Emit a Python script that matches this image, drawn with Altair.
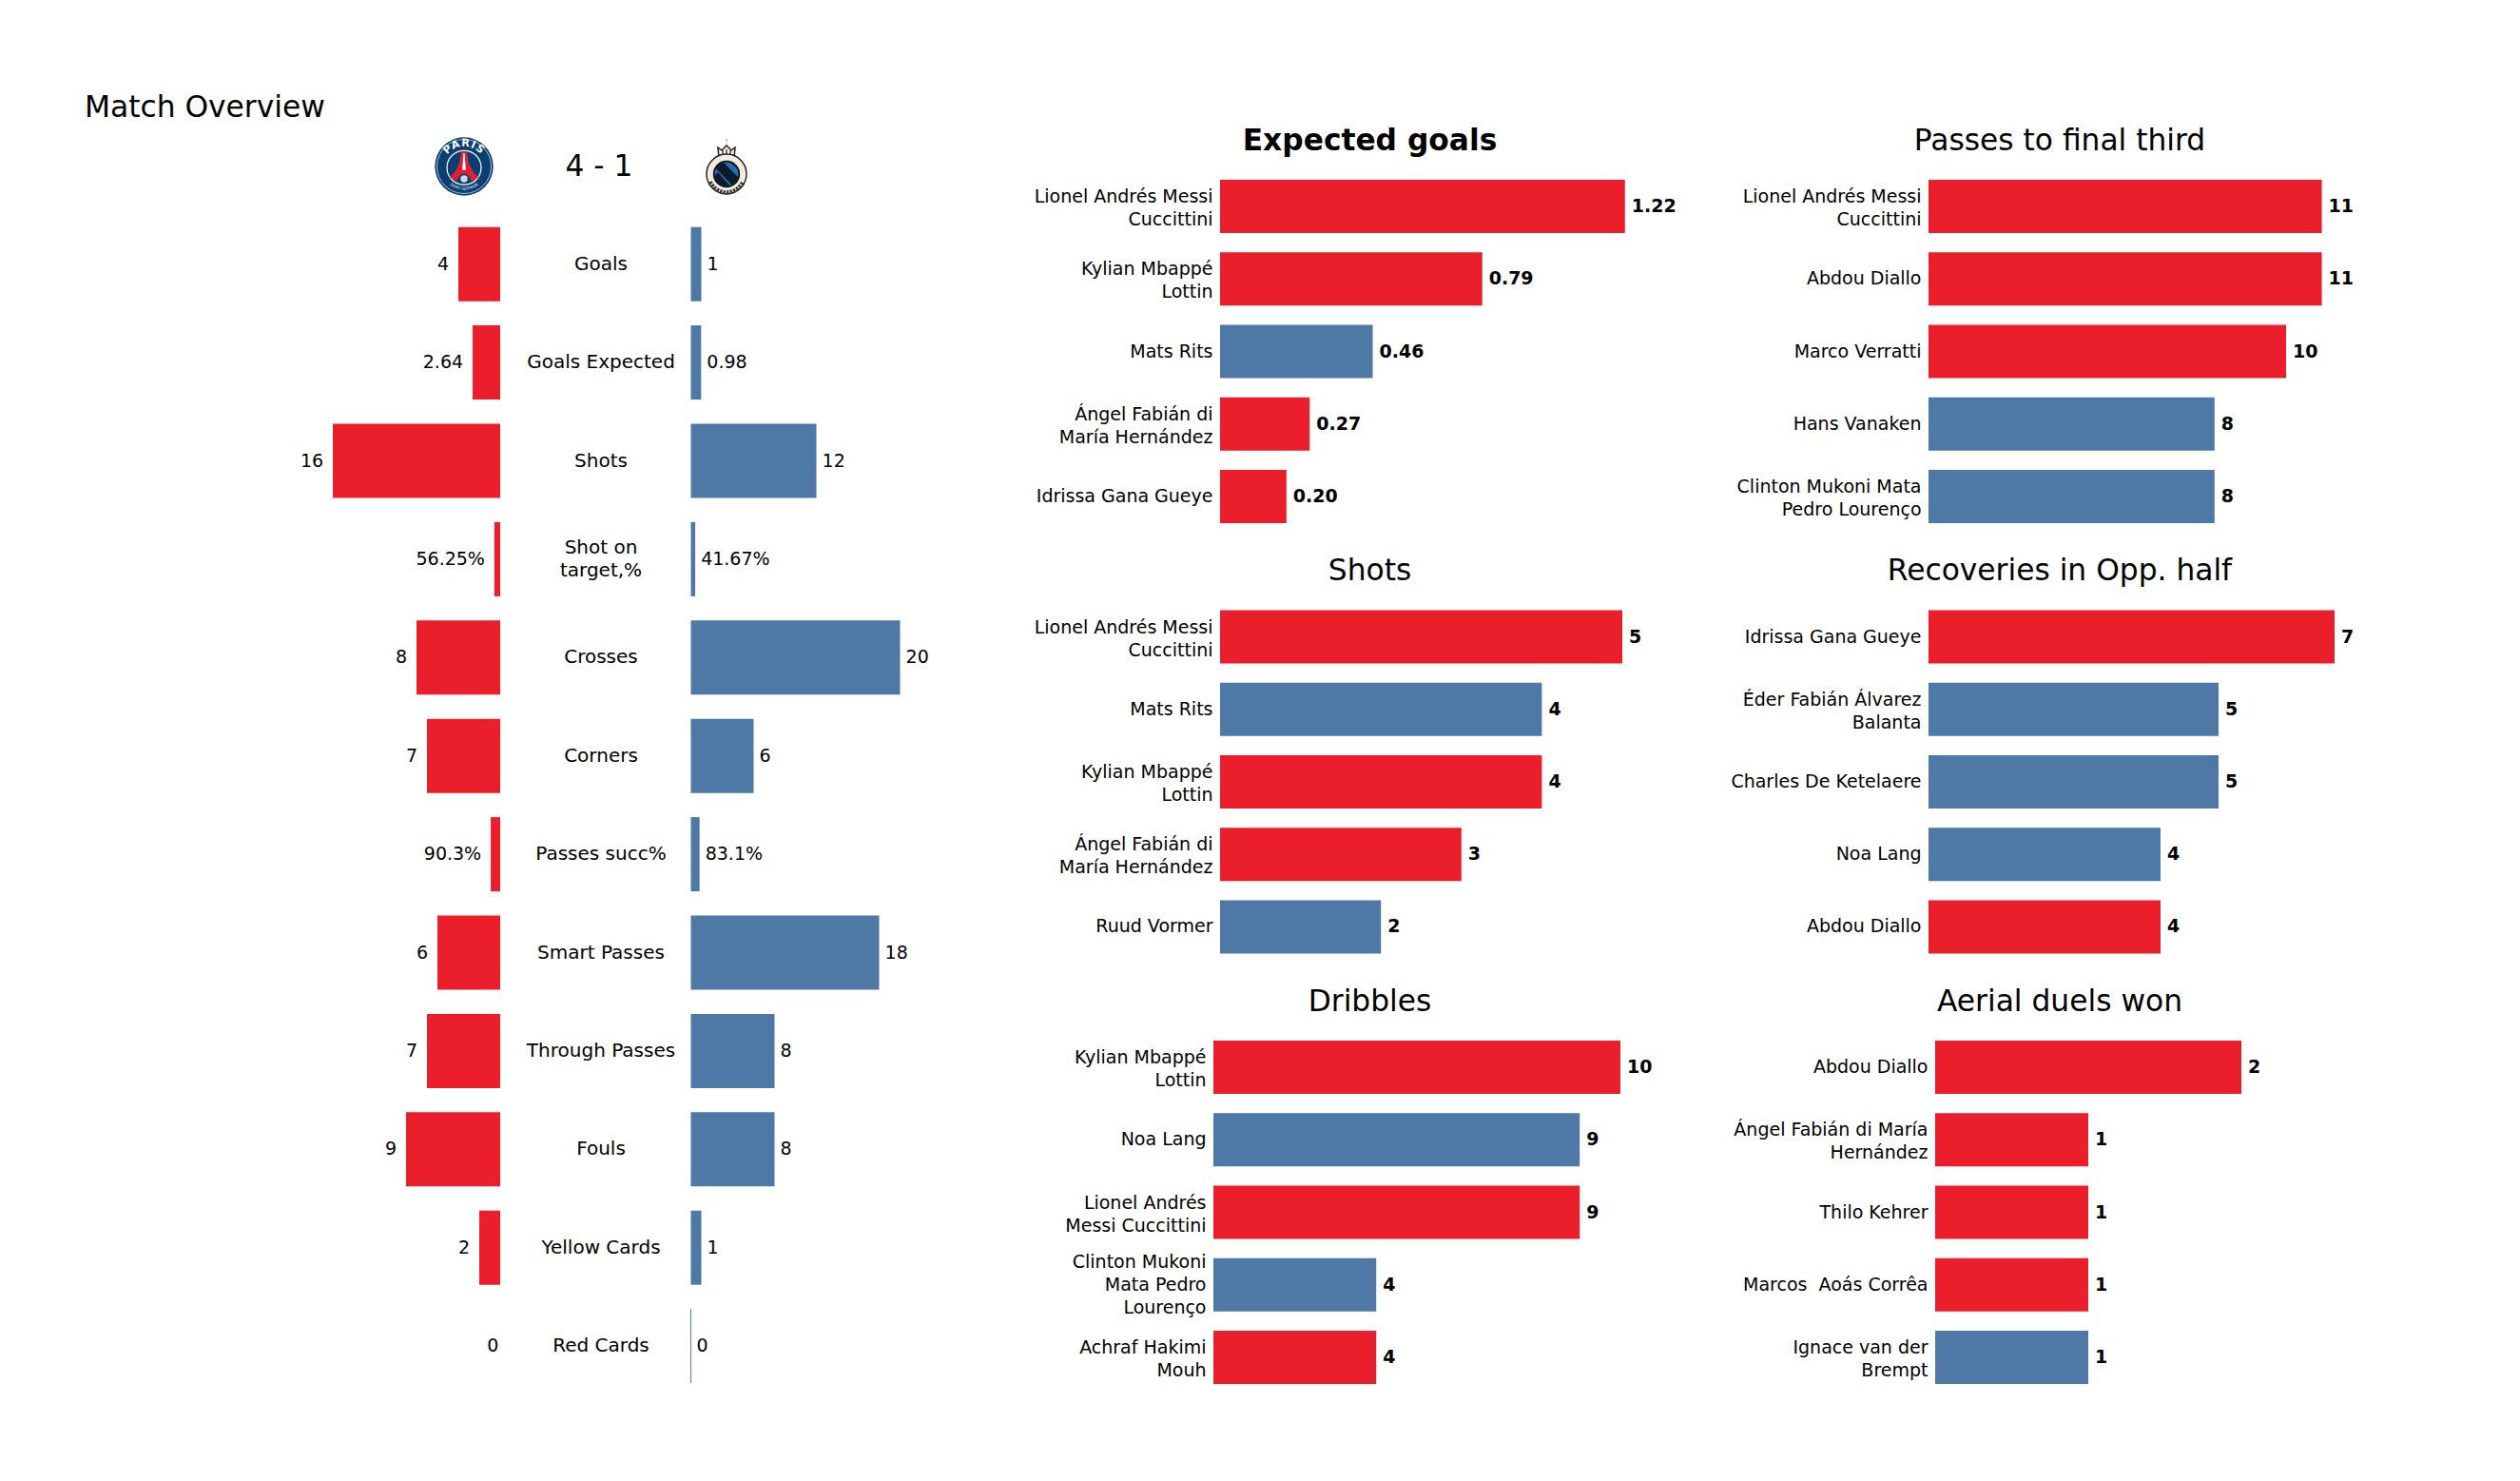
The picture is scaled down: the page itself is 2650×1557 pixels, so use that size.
import base64
import altair as alt
import pandas as pd

RED = "#EB1E2C"
BLUE = "#4E78A6"
FONT = "DejaVu Sans"

# ---- overview data
categories = ["Goals", "Goals Expected", "Shots", "Shot on|target,%", "Crosses", "Corners",
              "Passes succ%", "Smart Passes", "Through Passes", "Fouls", "Yellow Cards", "Red Cards"]
home_values = [4, 2.64, 16, 0.5625, 8, 7, 0.903, 6, 7, 9, 2, 0]
away_values = [1, 0.98, 12, 0.4167, 20, 6, 0.831, 18, 8, 8, 1, 0]
home_labels = ["4", "2.64", "16", "56.25%", "8", "7", "90.3%", "6", "7", "9", "2", "0"]
away_labels = ["1", "0.98", "12", "41.67%", "20", "6", "83.1%", "18", "8", "8", "1", "0"]

# ---- player panels
xg_names = ["Lionel Andrés Messi|Cuccittini", "Kylian Mbappé|Lottin", "Mats Rits",
            "Ángel Fabián di|María Hernández", "Idrissa Gana Gueye"]
xg_values = [1.22, 0.79, 0.46, 0.27, 0.20]
xg_teams = ["PSG", "PSG", "BRU", "PSG", "PSG"]

shots_names = ["Lionel Andrés Messi|Cuccittini", "Mats Rits", "Kylian Mbappé|Lottin",
               "Ángel Fabián di|María Hernández", "Ruud Vormer"]
shots_values = [5, 4, 4, 3, 2]
shots_teams = ["PSG", "BRU", "PSG", "PSG", "BRU"]

drib_names = ["Kylian Mbappé|Lottin", "Noa Lang", "Lionel Andrés|Messi Cuccittini",
              "Clinton Mukoni|Mata Pedro|Lourenço", "Achraf Hakimi|Mouh"]
drib_values = [10, 9, 9, 4, 4]
drib_teams = ["PSG", "BRU", "PSG", "BRU", "PSG"]

final_names = ["Lionel Andrés Messi|Cuccittini", "Abdou Diallo", "Marco Verratti",
               "Hans Vanaken", "Clinton Mukoni Mata|Pedro Lourenço"]
final_values = [11, 11, 10, 8, 8]
final_teams = ["PSG", "PSG", "PSG", "BRU", "BRU"]

recov_names = ["Idrissa Gana Gueye", "Éder Fabián Álvarez|Balanta", "Charles De Ketelaere",
               "Noa Lang", "Abdou Diallo"]
recov_values = [7, 5, 5, 4, 4]
recov_teams = ["PSG", "BRU", "BRU", "BRU", "PSG"]

aerial_names = ["Abdou Diallo", "Ángel Fabián di María|Hernández", "Thilo Kehrer",
                "Marcos\u00a0 Aoás Corrêa", "Ignace van der|Brempt"]
aerial_values = [2, 1, 1, 1, 1]
aerial_teams = ["PSG", "PSG", "PSG", "PSG", "BRU"]

# ---- crests (small inline drawings)
PSG_SVG = """<svg xmlns="http://www.w3.org/2000/svg" width="100" height="100" viewBox="0 0 100 100">
<circle cx="50" cy="50" r="49.5" fill="#0B3F74"/>
<circle cx="50" cy="50" r="46" fill="none" stroke="#dfe6ee" stroke-width="1.2"/>
<path id="a" d="M14 52 A36 36 0 0 1 86 52" fill="none"/>
<text font-family="DejaVu Sans" font-weight="bold" font-size="18" fill="#fff" letter-spacing="1.5"><textPath href="#a" startOffset="50%" text-anchor="middle">PARIS</textPath></text>
<circle cx="50" cy="52" r="29" fill="#0B3F74" stroke="#fff" stroke-width="2"/>
<path d="M45 24 L55 24 C56 44 63 60 75 68 L62 75 C60 67 55 62 50 62 C45 62 40 67 38 75 L25 68 C37 60 44 44 45 24 Z" fill="#E0202F"/>
<path d="M49 28 L51 28 L53 56 L47 56 Z" fill="#fff"/>
<circle cx="50" cy="71" r="6" fill="#cfd9e6"/>
<path id="b" d="M14 64 A38 38 0 0 0 86 64" fill="none"/>
<text font-family="DejaVu Sans" font-size="6.5" fill="#e8edf3"><textPath href="#b" startOffset="50%" text-anchor="middle">SAINT-GERMAIN</textPath></text>
</svg>"""

BRUGES_SVG = """<svg xmlns="http://www.w3.org/2000/svg" width="44" height="60" viewBox="0 0 44 60">
<defs><clipPath id="c"><circle cx="22" cy="38" r="12.5"/></clipPath></defs>
<circle cx="22" cy="2" r="1.4" fill="#D8CDA8"/>
<rect x="21.5" y="3" width="1" height="5" fill="#D8CDA8"/>
<path d="M13 10 L17 13 L22 8 L27 13 L31 10 L30 21 L14 21 Z" fill="#f3f1ea" stroke="#222" stroke-width="1.5"/>
<path d="M18 13 L18 20 M22 12 L22 20 M26 13 L26 20" stroke="#222" stroke-width="1.2"/>
<circle cx="22" cy="38" r="21" fill="#F1ECDD" stroke="#1a1a1a" stroke-width="1.4"/>
<path d="M5 46 A18.5 18.5 0 0 0 39 46" fill="none" stroke="#333" stroke-width="4" stroke-dasharray="2.4 1.2"/>
<circle cx="22" cy="38" r="14.2" fill="#111"/>
<g clip-path="url(#c)"><rect x="8" y="24" width="28" height="28" fill="#1E6FB8"/>
<path d="M8 29 L17 24 L36 43 L30 52 Z" fill="#0c1a2b"/>
<path d="M8 42 L13 36 L27 52 L17 52 Z" fill="#0c1a2b"/>
<path d="M23 24 L36 24 L36 34 Z" fill="#0c1a2b"/></g>
</svg>"""


def data_uri(svg):
    return "data:image/svg+xml;base64," + base64.b64encode(svg.encode("utf-8")).decode("ascii")


# ---- layout constants (pixels)
K_OVER = 11.0          # pixels per unit in the overview
OVER_W = 1068
ZERO_PX = 518          # red baseline inside the overview plot
GAP = 200.5 / K_OVER   # between red baseline and blue baseline
MID = 106 / K_OVER     # centre of the category labels
STEP_OVER = 103.4
OVER_H = STEP_OVER * 12
HEAD_H = 47
HEAD_Y = -4
STEP = 76.2
PANEL_H = STEP * 5
COL1_W, COL2_W = 537, 572
COL1_EXT, COL2_EXT = 200, 215
VALUE_SIZE, NAME_SIZE, TITLE_SIZE = 19, 19, 31.3

x_over = alt.Scale(domain=[-ZERO_PX / K_OVER, (OVER_W - ZERO_PX) / K_OVER], nice=False, zero=False)
band_over = alt.Scale(paddingInner=25.4 / STEP_OVER, paddingOuter=12.7 / STEP_OVER)

over_df = pd.DataFrame({"category": categories, "home": home_values, "away": away_values,
                        "home_label": home_labels, "away_label": away_labels})

over_base = alt.Chart(over_df).transform_calculate(
    zero="0",
    home_end="-datum.home",
    away_start=f"{GAP}",
    away_end=f"{GAP} + datum.away",
    home_text="-datum.home - (datum.home > 0 ? 0.9 : 0.15)",
    away_text=f"{GAP} + datum.away + 0.55",
    mid=f"{MID}",
)
y_over = alt.Y("category:N", sort=None, scale=band_over, axis=None)

red_bars = over_base.mark_bar(color=RED).encode(
    x=alt.X("home_end:Q", scale=x_over, axis=None), x2="zero:Q", y=y_over)
blue_bars = over_base.mark_bar(color=BLUE, stroke=BLUE).encode(
    x=alt.X("away_start:Q", scale=x_over, axis=None), x2="away_end:Q", y=y_over,
    strokeWidth=alt.condition("datum.away == 0", alt.value(1), alt.value(0)))
home_text = over_base.mark_text(align="right", baseline="middle", font=FONT, fontSize=VALUE_SIZE, color="black").encode(
    x=alt.X("home_text:Q", scale=x_over, axis=None), y=y_over, text="home_label:N")
away_text = over_base.mark_text(align="left", baseline="middle", font=FONT, fontSize=VALUE_SIZE, color="black").encode(
    x=alt.X("away_text:Q", scale=x_over, axis=None), y=y_over, text="away_label:N")
cat_single = over_base.transform_filter("indexof(datum.category, '|') < 0").mark_text(
    align="center", baseline="middle", font=FONT, fontSize=20, color="black").encode(
    x=alt.X("mid:Q", scale=x_over, axis=None), y=y_over, text="category:N")
cat_double = over_base.transform_filter("indexof(datum.category, '|') >= 0").mark_text(
    align="center", baseline="middle", font=FONT, fontSize=20, color="black",
    lineBreak="|", lineHeight=24, dy=-12).encode(
    x=alt.X("mid:Q", scale=x_over, axis=None), y=y_over, text="category:N")

overview = alt.layer(red_bars, blue_bars, home_text, away_text, cat_single, cat_double).properties(
    width=OVER_W, height=OVER_H)

# header: crests and score
crest_df = pd.DataFrame({"x": [(488 - 526) / K_OVER, (764 - 526) / K_OVER],
                         "url": [data_uri(PSG_SVG), data_uri(BRUGES_SVG)]})
score_df = pd.DataFrame({"x": [(630 - 526) / K_OVER], "score": ["4 - 1"]})
psg_crest = alt.Chart(crest_df.iloc[[0]]).mark_image(width=62, height=62).encode(
    x=alt.X("x:Q", scale=x_over, axis=None), y=alt.value(HEAD_Y), url="url:N")
bru_crest = alt.Chart(crest_df.iloc[[1]]).mark_image(width=44, height=60).encode(
    x=alt.X("x:Q", scale=x_over, axis=None), y=alt.value(HEAD_Y), url="url:N")
score = alt.Chart(score_df).mark_text(font=FONT, fontSize=TITLE_SIZE, color="black", baseline="middle", dy=1).encode(
    x=alt.X("x:Q", scale=x_over, axis=None), y=alt.value(HEAD_Y), text="score:N")
header = alt.layer(psg_crest, bru_crest, score).properties(width=OVER_W, height=HEAD_H)

left = alt.vconcat(header, overview, spacing=0)

LABEL_OFFSET = {
    "condition": [
        {"test": "length(split(datum.value, '|')) == 3", "value": -24},
        {"test": "length(split(datum.value, '|')) == 2", "value": -10},
    ],
    "value": 0,
}


def panel(title, names, values, teams, k, zero_px, pad, width, extent, fmt="{:d}", title_dx=0, bold=False):
    df = pd.DataFrame({"name": names, "value": values, "team": teams,
                       "label": [fmt.format(v) for v in values]})
    x = alt.X("value:Q", axis=None,
              scale=alt.Scale(domain=[-zero_px / k, (width - zero_px) / k], nice=False, zero=False))
    y = alt.Y("name:N", sort=None,
              scale=alt.Scale(paddingInner=20.2 / STEP, paddingOuter=10.1 / STEP),
              axis=alt.Axis(title=None, domain=False, ticks=False, grid=False, labelPadding=pad,
                            labelLimit=400, labelFont=FONT, labelFontSize=NAME_SIZE, labelColor="black",
                            labelLineHeight=24, minExtent=extent, maxExtent=extent,
                            labelOffset=LABEL_OFFSET,
                            labelExpr="split(datum.label, '|')"))
    bars = alt.Chart(df).mark_bar().encode(
        x=x, y=y,
        color=alt.Color("team:N", legend=None,
                        scale=alt.Scale(domain=["PSG", "BRU"], range=[RED, BLUE])))
    text = alt.Chart(df).mark_text(align="left", baseline="middle", dx=7, font=FONT, fontSize=VALUE_SIZE,
                                   fontWeight="bold", color="black").encode(x=x, y=y, text="label:N")
    return alt.layer(bars, text).properties(
        width=width, height=PANEL_H,
        title=alt.TitleParams(title, font=FONT, fontSize=TITLE_SIZE, fontWeight="bold" if bold else "normal",
                              color="black", anchor="middle", dx=title_dx, offset=15))


C1 = dict(width=COL1_W, extent=COL1_EXT, title_dx=-104)
C2 = dict(width=COL2_W, extent=COL2_EXT, title_dx=-148)

col1 = alt.vconcat(
    panel("Expected goals", xg_names, xg_values, xg_teams, 349, 7, 1, fmt="{:.2f}", bold=True, **C1),
    panel("Shots", shots_names, shots_values, shots_teams, 84.6, 7, 1, **C1),
    panel("Dribbles", drib_names, drib_values, drib_teams, 42.8, 0, 8, **C1),
    spacing=24.5,
)
col2 = alt.vconcat(
    panel("Passes to final third", final_names, final_values, final_teams, 37.6, 0, 8, **C2),
    panel("Recoveries in Opp. half", recov_names, recov_values, recov_teams, 61, 0, 8, **C2),
    panel("Aerial duels won", aerial_names, aerial_values, aerial_teams, 161, 7, 1, **C2),
    spacing=24.5,
)

chart = alt.hconcat(left, col1, col2, spacing=0).properties(
    padding={"left": 0, "top": 90, "right": 0, "bottom": 0},
    background="white",
    title=alt.TitleParams("Match Overview", font=FONT, fontSize=TITLE_SIZE, fontWeight="normal", color="black",
                          anchor="start", dx=81, offset=3),
).configure_view(stroke=None)

chart.save("out.html", embed_options={"renderer": "svg", "actions": False})
